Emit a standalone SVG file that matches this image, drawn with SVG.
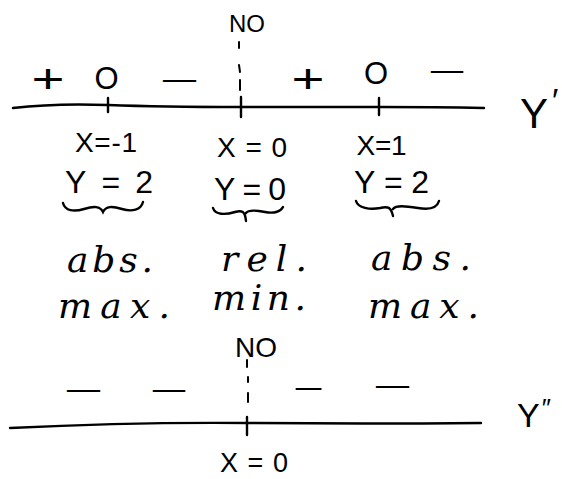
<svg xmlns="http://www.w3.org/2000/svg" width="562" height="479" viewBox="0 0 562 479">
<style>
.t{font-family:"Liberation Sans","DejaVu Sans",sans-serif;fill:#000;text-anchor:middle}
.c{font-family:"DejaVu Serif","Liberation Serif",serif;font-style:italic;fill:#000;text-anchor:middle;font-size:36px}
.ln{fill:none;stroke:#000;stroke-width:2.4;stroke-linecap:round}
.ds{fill:none;stroke:#000;stroke-width:2;stroke-linecap:round}
</style>
<rect width="562" height="479" fill="#fff"/>
<g id="connectors">
<path class="ln" d="M13,108 Q55,103 108,105 T241,107 T379,107 T484,108"/>
<path class="ln" d="M108,98 L108,112 M241,97 L241,117 M379,98 L379,115"/>
<path class="ds" d="M239,42 L239,48 M239,65 L240,72 M240,80 L240,90"/>
<path class="ln" d="M10,428 Q130,422 247,423 T481,423"/>
<path class="ln" d="M247,417 L247,435"/>
<path class="ds" d="M247,360 L247,367 M248,377 L248,382 M248,393 L248,402"/>
<path class="ln" d="M63,203 C65,211 74,212 84,209 C94,206 100,206 103,212 C106,206 112,206 122,209 C132,212 141,210 143,202"/>
<path class="ln" d="M213,208 C215,215 225,215 235,212 C242,210 245,211 246,221 M246,213 C248,210 255,210 265,212 C275,214 281,211 283,207"/>
<path class="ln" d="M356,201 C358,208 370,210 380,208 C388,206 391,207 393,216 M393,209 C396,205 405,206 418,208 C430,210 437,208 439,201"/>
</g>
<g id="top-chart">
<text class="t" x="247" y="32" font-size="24">NO</text>
<text class="t" x="48" y="93" font-size="40" textLength="33" lengthAdjust="spacingAndGlyphs">+</text>
<text class="t" x="106.5" y="89" font-size="31">O</text>
<text class="t" x="179.5" y="91" font-size="30" textLength="40" lengthAdjust="spacingAndGlyphs">−</text>
<text class="t" x="308" y="93" font-size="40" textLength="33" lengthAdjust="spacingAndGlyphs">+</text>
<text class="t" x="376" y="84" font-size="31">O</text>
<text class="t" x="447" y="82" font-size="30" textLength="39" lengthAdjust="spacingAndGlyphs">−</text>
<text class="t" x="520" y="128" font-size="42" style="text-anchor:start">Y<tspan dx="4" dy="-16" font-size="34">′</tspan></text>
</g>
<g id="col-1">
<text class="t" x="106" y="152" font-size="28" textLength="62" lengthAdjust="spacing">X=-1</text>
<text class="t" x="109" y="193" font-size="32" textLength="88" lengthAdjust="spacing">Y=2</text>
<text class="c" x="110" y="272" textLength="86" lengthAdjust="spacing">abs.</text>
<text class="c" x="114" y="318" textLength="112" lengthAdjust="spacing">max.</text>
</g>
<g id="col-2">
<text class="t" x="252" y="157" font-size="28" textLength="70" lengthAdjust="spacing">X=0</text>
<text class="t" x="250" y="200" font-size="32" textLength="72" lengthAdjust="spacing">Y=0</text>
<text class="c" x="264" y="271" textLength="86" lengthAdjust="spacing">rel.</text>
<text class="c" x="259" y="310" textLength="94" lengthAdjust="spacing">min.</text>
</g>
<g id="col-3">
<text class="t" x="381.5" y="155" font-size="28" textLength="50" lengthAdjust="spacing">X=1</text>
<text class="t" x="391.5" y="193" font-size="32" textLength="75" lengthAdjust="spacing">Y=2</text>
<text class="c" x="421" y="270" textLength="100" lengthAdjust="spacing">abs.</text>
<text class="c" x="423.5" y="318" textLength="111" lengthAdjust="spacing">max.</text>
</g>
<g id="bottom-chart">
<text class="t" x="256" y="357" font-size="28">NO</text>
<text class="t" x="83.5" y="401" font-size="30" textLength="40" lengthAdjust="spacingAndGlyphs">−</text>
<text class="t" x="169" y="401" font-size="30" textLength="39" lengthAdjust="spacingAndGlyphs">−</text>
<text class="t" x="308.5" y="399" font-size="30" textLength="31" lengthAdjust="spacingAndGlyphs">−</text>
<text class="t" x="392.5" y="397" font-size="30" textLength="40" lengthAdjust="spacingAndGlyphs">−</text>
<text class="t" x="517" y="427" font-size="34" style="text-anchor:start">Y<tspan dx="2" dy="-10" font-size="26">″</tspan></text>
<text class="t" x="254" y="472" font-size="27" textLength="68" lengthAdjust="spacing">X=0</text>
</g>
</svg>
